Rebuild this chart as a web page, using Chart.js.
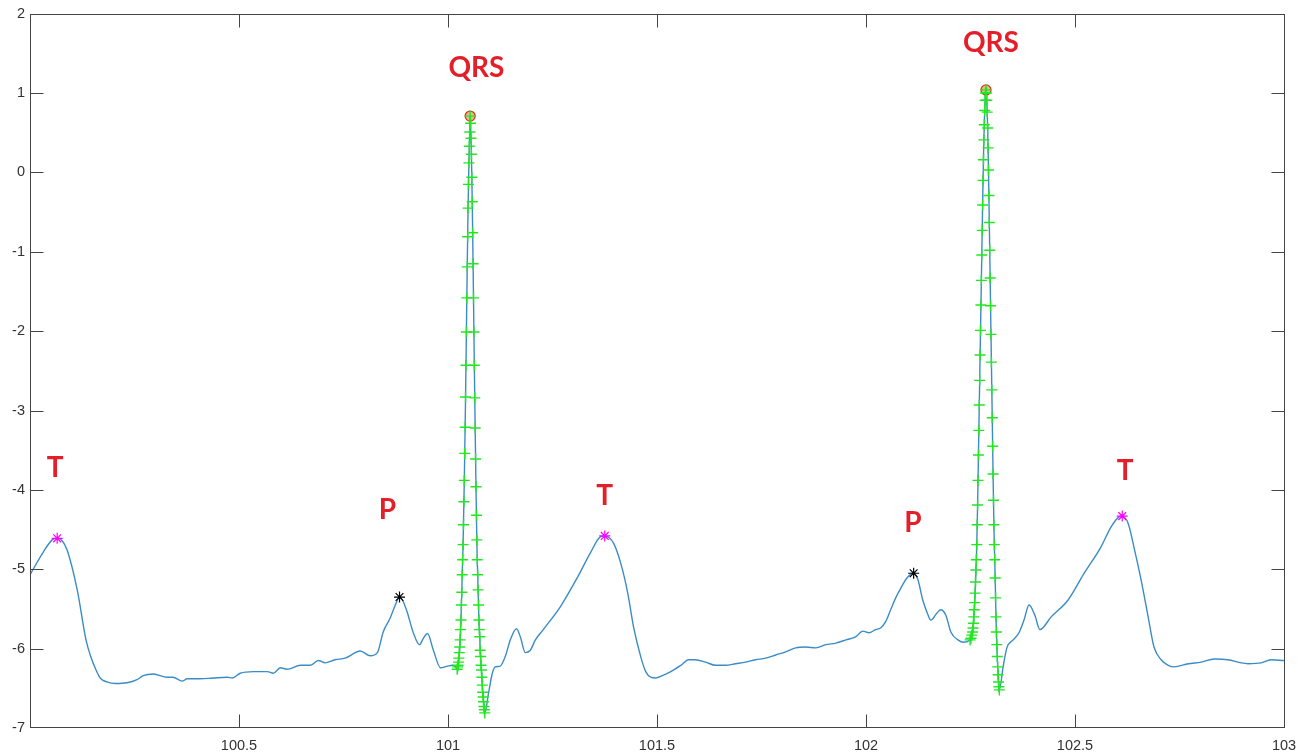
<!DOCTYPE html>
<html>
<head>
<meta charset="utf-8">
<script src="https://cdn.jsdelivr.net/npm/chart.js@4.4.1/dist/chart.umd.min.js"></script>
<style>
  body { margin: 0; background: #fff; }
  #ecg { display: block; }
</style>
</head>
<body>
<canvas id="ecg" width="1309" height="754"></canvas>
<script>
// signal, time in s
const seg1T = [100.000, 100.031, 100.053, 100.065, 100.077, 100.089, 100.113, 100.134, 100.144, 100.158, 100.168, 100.184, 100.204, 100.232, 100.256, 100.271, 100.295, 100.328, 100.342, 100.364, 100.376, 100.407, 100.438, 100.472, 100.484, 100.503, 100.534, 100.568, 100.582, 100.599, 100.615, 100.647, 100.670, 100.690, 100.706, 100.730, 100.754, 100.790, 100.814, 100.831, 100.845, 100.862, 100.874, 100.884, 100.893, 100.903, 100.917, 100.932, 100.941, 100.951, 100.965, 100.982, 100.999, 101.011, 101.018];
const seg1V = [-5.07, -4.79, -4.63, -4.61, -4.64, -4.76, -5.26, -5.89, -6.08, -6.27, -6.37, -6.42, -6.44, -6.43, -6.39, -6.34, -6.32, -6.36, -6.36, -6.41, -6.38, -6.38, -6.37, -6.36, -6.37, -6.31, -6.29, -6.29, -6.31, -6.24, -6.26, -6.21, -6.21, -6.15, -6.18, -6.14, -6.12, -6.03, -6.09, -6.05, -5.79, -5.61, -5.45, -5.35, -5.41, -5.55, -5.80, -5.95, -5.87, -5.81, -6.02, -6.24, -6.22, -6.21, -6.23];

const qrs1T = [101.022, 101.023, 101.024, 101.025, 101.026, 101.027, 101.028, 101.029, 101.030, 101.031, 101.032, 101.033, 101.034, 101.035, 101.036, 101.037, 101.038, 101.039, 101.040, 101.041, 101.042, 101.043, 101.044, 101.045, 101.046, 101.047, 101.048, 101.049, 101.050, 101.051, 101.052, 101.053,
  101.054, 101.055, 101.056, 101.057, 101.058, 101.059, 101.060, 101.061, 101.062, 101.063, 101.064, 101.065, 101.066, 101.067, 101.068, 101.069, 101.070, 101.071, 101.072, 101.073, 101.074, 101.075, 101.076, 101.077, 101.078, 101.079, 101.080, 101.081, 101.082, 101.083, 101.084, 101.085, 101.086, 101.087, 101.088];
const qrs1V = [-6.26, -6.23, -6.21, -6.17, -6.12, -6.05, -5.98, -5.89, -5.76, -5.64, -5.45, -5.29, -5.07, -4.88, -4.69, -4.44, -4.15, -3.88, -3.54, -3.21, -2.83, -2.43, -2.01, -1.58, -1.19, -0.81, -0.45, -0.15, 0.12, 0.33, 0.51, 0.71,
  0.62, 0.43, 0.23, -0.06, -0.37, -0.76, -1.15, -1.58, -2.01, -2.43, -2.84, -3.22, -3.61, -3.96, -4.32, -4.63, -4.88, -5.07, -5.26, -5.45, -5.64, -5.76, -5.85, -6.02, -6.10, -6.21, -6.27, -6.36, -6.46, -6.55, -6.61, -6.67, -6.73, -6.77, -6.81];

const seg2T = [101.097, 101.106, 101.113, 101.125, 101.137, 101.149, 101.164, 101.173, 101.185, 101.197, 101.209, 101.228, 101.269, 101.310, 101.341, 101.365, 101.375, 101.396, 101.413, 101.430, 101.444, 101.461, 101.473, 101.485, 101.497, 101.513, 101.533, 101.557, 101.576, 101.592, 101.616, 101.640, 101.664, 101.688, 101.712, 101.736, 101.760, 101.784, 101.808, 101.832, 101.856, 101.880, 101.904, 101.928, 101.952, 101.976, 101.992, 102.007, 102.023, 102.035, 102.047, 102.059, 102.071, 102.083, 102.098, 102.114, 102.124, 102.136, 102.148, 102.155, 102.170, 102.179, 102.191, 102.203, 102.220, 102.234];
const seg2V = [-6.56, -6.31, -6.23, -6.22, -6.10, -5.89, -5.75, -5.85, -6.05, -6.02, -5.89, -5.76, -5.47, -5.10, -4.79, -4.59, -4.58, -4.67, -4.92, -5.30, -5.73, -6.10, -6.29, -6.36, -6.37, -6.34, -6.29, -6.21, -6.14, -6.14, -6.17, -6.21, -6.21, -6.19, -6.17, -6.14, -6.12, -6.08, -6.04, -5.99, -5.98, -5.99, -5.95, -5.93, -5.89, -5.85, -5.78, -5.80, -5.76, -5.74, -5.66, -5.51, -5.36, -5.24, -5.11, -5.05, -5.13, -5.39, -5.57, -5.64, -5.55, -5.51, -5.58, -5.79, -5.89, -5.92];

const qrs2T = [102.249, 102.251, 102.253, 102.255, 102.256, 102.257, 102.258, 102.259, 102.260, 102.261, 102.262, 102.263, 102.264, 102.265, 102.266, 102.267, 102.268, 102.269, 102.270, 102.271, 102.272, 102.273, 102.274, 102.275, 102.276, 102.277, 102.278, 102.279, 102.280, 102.281, 102.282, 102.283, 102.284, 102.285, 102.286, 102.287,
  102.288, 102.289, 102.290, 102.291, 102.292, 102.293, 102.294, 102.295, 102.296, 102.297, 102.298, 102.299, 102.300, 102.301, 102.302, 102.303, 102.304, 102.305, 102.306, 102.307, 102.308, 102.309, 102.310, 102.311, 102.312, 102.313, 102.314, 102.315, 102.316, 102.317, 102.318, 102.319];
const qrs2V = [-5.89, -5.87, -5.83, -5.79, -5.74, -5.68, -5.60, -5.51, -5.42, -5.30, -5.16, -5.01, -4.88, -4.69, -4.44, -4.19, -3.88, -3.56, -3.25, -2.93, -2.62, -2.30, -1.99, -1.67, -1.36, -1.04, -0.73, -0.41, -0.10, 0.16, 0.41, 0.60, 0.78, 0.91, 1.00, 1.04,
  1.00, 0.91, 0.76, 0.56, 0.31, 0.03, -0.29, -0.63, -0.98, -1.33, -1.68, -2.04, -2.39, -2.74, -3.09, -3.45, -3.80, -4.13, -4.44, -4.69, -4.88, -5.11, -5.36, -5.60, -5.79, -5.95, -6.10, -6.23, -6.33, -6.42, -6.48, -6.52];

const seg3T = [102.328, 102.337, 102.352, 102.366, 102.378, 102.390, 102.404, 102.416, 102.443, 102.483, 102.522, 102.562, 102.586, 102.605, 102.613, 102.627, 102.641, 102.658, 102.675, 102.689, 102.706, 102.723, 102.737, 102.771, 102.802, 102.833, 102.866, 102.898, 102.914, 102.945, 102.969, 103.000];
const seg3V = [-6.23, -5.99, -5.89, -5.80, -5.64, -5.45, -5.58, -5.76, -5.60, -5.39, -5.05, -4.72, -4.47, -4.34, -4.33, -4.42, -4.72, -5.13, -5.60, -5.98, -6.14, -6.21, -6.23, -6.19, -6.17, -6.13, -6.14, -6.18, -6.19, -6.18, -6.14, -6.15];

// detected points
const pT = [100.884, 102.114];
const pV = [-5.35, -5.05];
const tT = [100.065, 101.375, 102.613];
const tV = [-4.61, -4.58, -4.33];
const rT = [101.053, 102.287];
const rV = [0.71, 1.04];

const labelText = ['T', 'P', 'QRS', 'T', 'P', 'QRS', 'T'];
const labelX = [100.060, 100.855, 101.068, 101.375, 102.112, 102.299, 102.620];
const labelY = [-3.72, -4.25, 1.31, -4.08, -4.42, 1.63, -3.76];

const xTicks = [100, 100.5, 101, 101.5, 102, 102.5, 103];
const yTicks = [-7, -6, -5, -4, -3, -2, -1, 0, 1, 2];

function pts(xs, ys) {
  return xs.map((x, i) => ({ x: x, y: ys[i] }));
}

const lineData = [].concat(pts(seg1T, seg1V), pts(qrs1T, qrs1V), pts(seg2T, seg2V), pts(qrs2T, qrs2V), pts(seg3T, seg3V));
const qrsData = [].concat(pts(qrs1T, qrs1V), pts(qrs2T, qrs2V));

const axisBox = {
  id: 'axisBox',
  afterDatasetsDraw(chart) {
    const ctx = chart.ctx;
    const a = chart.chartArea;
    const xs = chart.scales.x;
    const ys = chart.scales.y;
    const L = Math.round(a.left) + 0.5, R = Math.round(a.right) + 0.5;
    const T = Math.round(a.top) + 0.5, B = Math.round(a.bottom) - 0.5;
    ctx.save();
    ctx.strokeStyle = '#444';
    ctx.lineWidth = 1;
    ctx.strokeRect(L, T, R - L, B - T);
    ctx.beginPath();
    yTicks.slice(1, -1).forEach(v => {
      let p = Math.round(ys.getPixelForValue(v)) + 0.5;
      ctx.moveTo(L, p); ctx.lineTo(L + 13, p);
      ctx.moveTo(R, p); ctx.lineTo(R - 13, p);
    });
    xTicks.slice(1, -1).forEach(v => {
      let p = Math.round(xs.getPixelForValue(v)) + 0.5;
      ctx.moveTo(p, B); ctx.lineTo(p, B - 13);
      ctx.moveTo(p, T); ctx.lineTo(p, T + 13);
    });
    ctx.stroke();

    ctx.fillStyle = '#e3202a';
    ctx.font = 'bold 28px Lato';
    ctx.textAlign = 'center';
    ctx.textBaseline = 'middle';
    labelText.forEach((t, i) => {
      ctx.fillText(t, xs.getPixelForValue(labelX[i]), ys.getPixelForValue(labelY[i]));
    });
    ctx.restore();
  }
};

new Chart(document.getElementById('ecg'), {
  type: 'scatter',
  data: {
    datasets: [
      {
        label: 'P',
        data: pts(pT, pV),
        pointStyle: 'star',
        radius: 5.5,
        borderColor: '#000',
        borderWidth: 1.2,
        order: 1
      },
      {
        label: 'T',
        data: pts(tT, tV),
        pointStyle: 'star',
        radius: 5.5,
        borderColor: '#ff00ff',
        borderWidth: 1.2,
        order: 1
      },
      {
        label: 'QRS samples',
        data: qrsData,
        pointStyle: 'cross',
        radius: 5.5,
        borderColor: '#22e622',
        borderWidth: 1.4,
        order: 2
      },
      {
        label: 'R',
        data: pts(rT, rV),
        pointStyle: 'circle',
        radius: 5,
        borderColor: '#e0321e',
        backgroundColor: 'rgba(200,120,40,0.5)',
        borderWidth: 1.3,
        order: 3
      },
      {
        label: 'ECG',
        data: lineData,
        showLine: true,
        pointRadius: 0,
        borderColor: '#3a8cc6',
        borderWidth: 1.4,
        cubicInterpolationMode: 'monotone',
        order: 10
      }
    ]
  },
  options: {
    responsive: false,
    animation: false,
    events: [],
    layout: { padding: { top: 13, right: 25, left: 0, bottom: 0 } },
    plugins: {
      legend: { display: false },
      tooltip: { enabled: false }
    },
    scales: {
      x: {
        type: 'linear',
        min: 100,
        max: 103,
        afterFit: s => { s.height = 26; },
        afterBuildTicks: s => { s.ticks = xTicks.map(v => ({ value: v })); },
        grid: { display: false, drawTicks: false },
        border: { display: false },
        ticks: {
          padding: 9,
          color: '#333',
          font: { family: 'Liberation Sans', size: 14.5 },
          callback: v => (v === 100 ? '' : v)
        }
      },
      y: {
        min: -7,
        max: 2,
        afterFit: s => { s.width = 30; },
        afterBuildTicks: s => { s.ticks = yTicks.map(v => ({ value: v })); },
        grid: { display: false, drawTicks: false },
        border: { display: false },
        ticks: {
          padding: 5,
          color: '#333',
          font: { family: 'Liberation Sans', size: 14.5 }
        }
      }
    }
  },
  plugins: [axisBox]
});
</script>
</body>
</html>
